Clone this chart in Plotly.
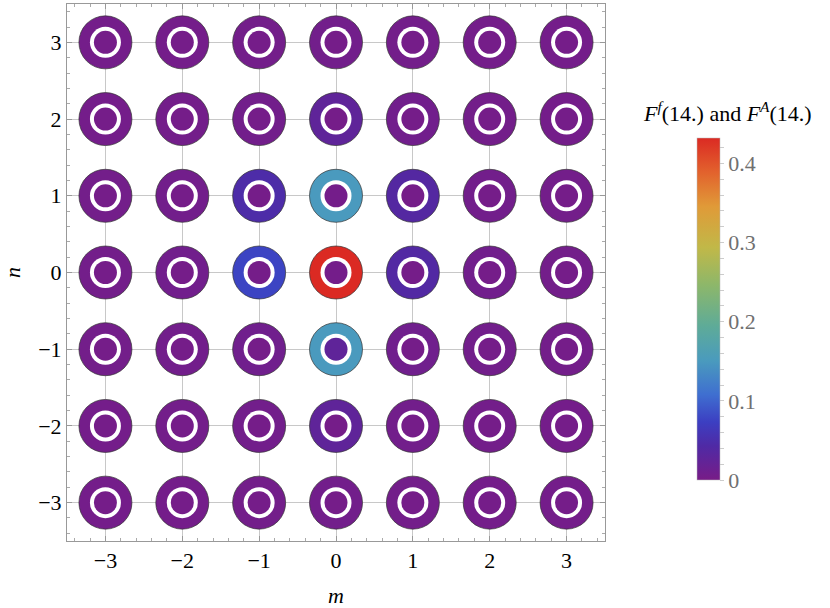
import plotly.graph_objects as go

# lattice sites
m_vals = [-3, -2, -1, 0, 1, 2, 3]
n_vals = [3, 2, 1, 0, -1, -2, -3]

# F^A(14.) -> outer ring, rows from n=3 down to n=-3, columns m=-3..3
outer_FA = [
    [0.004, 0.004, 0.005, 0.006, 0.005, 0.004, 0.004],
    [0.004, 0.005, 0.006, 0.026, 0.007, 0.005, 0.004],
    [0.005, 0.006, 0.046, 0.150, 0.038, 0.006, 0.005],
    [0.005, 0.007, 0.077, 0.432, 0.040, 0.007, 0.005],
    [0.005, 0.006, 0.008, 0.150, 0.008, 0.006, 0.005],
    [0.004, 0.005, 0.006, 0.026, 0.006, 0.005, 0.004],
    [0.004, 0.004, 0.005, 0.006, 0.005, 0.004, 0.004],
]
# F^f(14.) -> inner disc
inner_Ff = [
    [0.003, 0.003, 0.003, 0.003, 0.003, 0.003, 0.003],
    [0.003, 0.003, 0.003, 0.003, 0.003, 0.003, 0.003],
    [0.003, 0.003, 0.003, 0.004, 0.003, 0.003, 0.003],
    [0.003, 0.003, 0.003, 0.004, 0.003, 0.003, 0.003],
    [0.003, 0.003, 0.003, 0.026, 0.003, 0.003, 0.003],
    [0.003, 0.003, 0.003, 0.003, 0.003, 0.003, 0.003],
    [0.003, 0.003, 0.003, 0.003, 0.003, 0.003, 0.003],
]
cmax = 0.432

rainbow = [
    [0.00, "#781c87"], [0.10, "#4f2aa5"], [0.17, "#3c3fc2"], [0.25, "#3f6fd0"],
    [0.35, "#4a9bbd"], [0.45, "#5eab98"], [0.57, "#8db76a"], [0.68, "#c1b848"],
    [0.80, "#e09a38"], [0.90, "#e2622d"], [1.00, "#db2a23"],
]

xs, ys, vo, vi = [], [], [], []
for r, n in enumerate(n_vals):
    for c, m in enumerate(m_vals):
        xs.append(m)
        ys.append(n)
        vo.append(outer_FA[r][c])
        vi.append(inner_Ff[r][c])

serif = "Liberation Serif"
fsize = 22

fig = go.Figure()
fig.add_trace(go.Scatter(
    x=xs, y=ys, mode="markers", hoverinfo="skip",
    marker=dict(size=53, color=vo, coloraxis="coloraxis",
                line=dict(color="#333333", width=0.7)),
))
fig.add_trace(go.Scatter(
    x=xs, y=ys, mode="markers", hoverinfo="skip",
    marker=dict(size=31, color="white", line=dict(width=0)),
))
fig.add_trace(go.Scatter(
    x=xs, y=ys, mode="markers", hoverinfo="skip",
    marker=dict(size=23, color=vi, coloraxis="coloraxis", line=dict(width=0)),
))

axis_common = dict(
    range=[-3.5, 3.5], tickvals=[-3, -2, -1, 0, 1, 2, 3], automargin=False,
    ticks="inside", ticklen=5, tickcolor="#999999",
    showline=True, linecolor="#999999", linewidth=1, mirror="allticks",
    showgrid=True, gridcolor="#c8c8c8", gridwidth=1, zeroline=False,
    minor=dict(dtick=0.2, ticks="inside", ticklen=3, tickcolor="#aaaaaa", showgrid=False),
    tickfont=dict(family=serif, size=fsize, color="black"),
)

fig.update_layout(
    width=830, height=608,
    margin=dict(l=67, r=225, t=4, b=67),
    paper_bgcolor="white", plot_bgcolor="white",
    showlegend=False,
    xaxis=dict(**axis_common, title=dict(text="<i>m</i>", standoff=18,
                                         font=dict(family=serif, size=fsize, color="black"))),
    yaxis=dict(**axis_common, title=dict(text="<i>n</i>", standoff=18,
                                         font=dict(family=serif, size=fsize, color="black"))),
    coloraxis=dict(
        colorscale=rainbow, cmin=0, cmax=cmax,
        colorbar=dict(
            x=1.171, xanchor="left", y=0.432, yanchor="middle",
            xpad=0, ypad=0, thickness=23, lenmode="pixels", len=342,
            outlinewidth=0.5, outlinecolor="#bbbbbb",
            tickvals=[round(0.02 * i, 2) for i in range(22)],
            ticktext=["0" if i == 0 else (f"{0.02 * i:.1f}" if i % 5 == 0 else "") for i in range(22)],
            ticks="outside", ticklen=4, tickcolor="#cccccc",
            tickfont=dict(family=serif, size=fsize, color="#707070"),
        ),
    ),
    annotations=[dict(
        text="<i>F</i><sup><i>f</i></sup>(14.) and <i>F</i><sup><i>A</i></sup>(14.)",
        xref="paper", yref="paper", x=1.227, y=0.799, xanchor="center", yanchor="middle",
        showarrow=False, font=dict(family=serif, size=fsize, color="black"),
    )],
)

# drop the default page margin so the figure sits at the window's top-left corner
fig.write_html("out.html", config={"displayModeBar": False},
               post_script="document.body.style.margin='0px';")
